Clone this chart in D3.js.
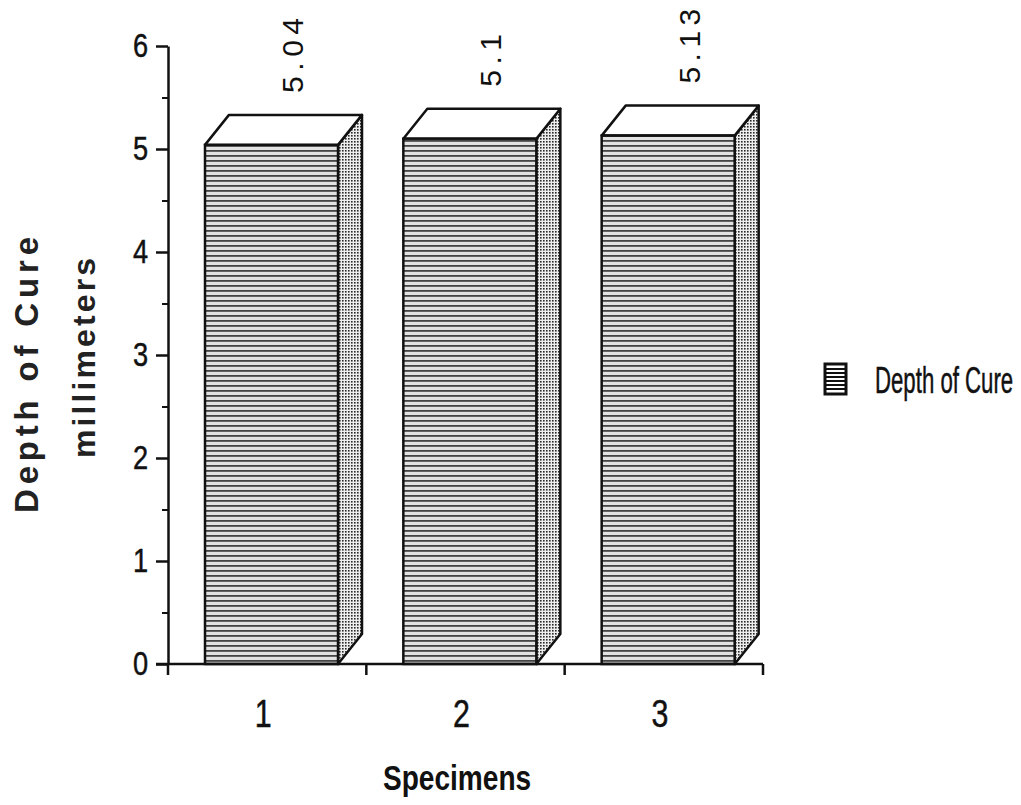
<!DOCTYPE html>
<html>
<head>
<meta charset="utf-8">
<script src="https://cdn.jsdelivr.net/npm/d3@7"></script>
<style>
  body { margin: 0; background: #fff; }
  text { font-family: "Liberation Sans", Arial, sans-serif; fill: #111; }
</style>
</head>
<body>
<div id="bar_chart"></div>
<script>
/* Depth of Cure per specimen - pseudo 3D bar chart */

const specimens = ["1", "2", "3"];
const depthOfCure = [5.04, 5.1, 5.13];
const valueLabels = ["5.04", "5.1", "5.13"];
const yTicks = [0, 1, 2, 3, 4, 5, 6];
const yMinorTicks = [0.5, 1.5, 2.5, 3.5, 4.5, 5.5];

const height = 805,
    width = 1021,
    margin = ({ top: 46, right: 258, bottom: 141, left: 168 });

const depthX = 24, depthY = 30, barOffset = 37, barWidth = 133;
const squeeze = 0.8; // the original uses a condensed face

const svg = d3.select("#bar_chart")
    .append("svg")
    .attr("width", width)
    .attr("height", height)
    .attr("viewBox", [0, 0, width, height]);

const defs = svg.append("defs");

// horizontal line fill for the front face
const hLines = defs.append("pattern")
    .attr("id", "hlines")
    .attr("patternUnits", "userSpaceOnUse")
    .attr("width", 8)
    .attr("height", 5);
hLines.append("rect").attr("width", 8).attr("height", 5).attr("fill", "#e2e2e2");
hLines.append("rect").attr("y", 0).attr("width", 8).attr("height", 1.8).attr("fill", "#444");

// stipple fill for the side face
const dots = defs.append("pattern")
    .attr("id", "dots")
    .attr("patternUnits", "userSpaceOnUse")
    .attr("width", 3)
    .attr("height", 3);
dots.append("rect").attr("width", 3).attr("height", 3).attr("fill", "#eee");
dots.append("rect").attr("width", 1.6).attr("height", 1.6).attr("fill", "#2a2a2a");

const data = specimens.map((s, i) => ({ specimen: s, value: depthOfCure[i], label: valueLabels[i] }));

let x = d3.scaleBand()
    .domain(specimens)
    .range([margin.left, width - margin.right])
    .padding(0);

let y = d3.scaleLinear()
    .domain([0, 6])
    .range([height - margin.bottom, margin.top]);

const base = y(0);

// bars
const bars = svg.append("g")
    .selectAll("g")
    .data(data)
    .join("g");

// side face
bars.append("path")
    .attr("d", d => {
        let x1 = x(d.specimen) + barOffset + barWidth, t = y(d.value);
        return `M${x1},${t} L${x1 + depthX},${t - depthY} L${x1 + depthX},${base - depthY} L${x1},${base} Z`;
    })
    .attr("fill", "url(#dots)")
    .attr("stroke", "#111")
    .attr("stroke-width", 2.5)
    .attr("stroke-linejoin", "round");

// top face
bars.append("path")
    .attr("d", d => {
        let x0 = x(d.specimen) + barOffset, t = y(d.value);
        return `M${x0},${t} L${x0 + depthX},${t - depthY} L${x0 + barWidth + depthX},${t - depthY} L${x0 + barWidth},${t} Z`;
    })
    .attr("fill", "#fff")
    .attr("stroke", "#111")
    .attr("stroke-width", 2.5)
    .attr("stroke-linejoin", "round");

// front face
bars.append("rect")
    .attr("x", d => x(d.specimen) + barOffset)
    .attr("y", d => y(d.value))
    .attr("width", barWidth)
    .attr("height", d => base - y(d.value))
    .attr("fill", "url(#hlines)")
    .attr("stroke", "#111")
    .attr("stroke-width", 2.5);

// value labels, rotated
bars.append("text")
    .attr("transform", d => `translate(${x(d.specimen) + barOffset + 98},${y(d.value) - 52}) rotate(-90)`)
    .attr("text-anchor", "start")
    .style("font-size", "30px")
    .style("letter-spacing", "5.5px")
    .text(d => d.label);

// y axis
const yAxis = svg.append("g")
    .attr("transform", `translate(${margin.left},0)`)
    .call(d3.axisLeft(y).tickValues(yTicks).tickSize(12).tickSizeOuter(0).tickFormat(d3.format("d")));
yAxis.select(".domain").attr("stroke", "#111").attr("stroke-width", 2.5);
yAxis.selectAll(".tick line").attr("stroke", "#111").attr("stroke-width", 2.5);
yAxis.selectAll(".tick text")
    .attr("x", -20 / squeeze)
    .attr("transform", `scale(${squeeze},1)`)
    .style("font-size", "34px")
    .style("stroke", "#111")
    .style("stroke-width", "0.5px");

svg.append("g")
    .attr("transform", `translate(${margin.left},0)`)
    .call(d3.axisLeft(y).tickValues(yMinorTicks).tickSize(6).tickFormat(""))
    .call(g => g.select(".domain").remove())
    .selectAll(".tick line").attr("stroke", "#111").attr("stroke-width", 2);

// x axis: line with ticks at category boundaries, labels at centres
const xAxis = svg.append("g")
    .attr("transform", `translate(0,${base})`)
    .call(d3.axisBottom(x).tickSize(0).tickSizeOuter(0).tickPadding(36));
xAxis.select(".domain").remove();
xAxis.append("line")
    .attr("x1", margin.left - 12)
    .attr("x2", width - margin.right)
    .attr("stroke", "#111")
    .attr("stroke-width", 2.5);
xAxis.selectAll(".boundary")
    .data(specimens.map(s => x(s) + x.bandwidth()).concat([x(specimens[0])]))
    .join("line")
    .attr("class", "boundary")
    .attr("x1", d => d).attr("x2", d => d)
    .attr("y1", 0).attr("y2", 11)
    .attr("stroke", "#111")
    .attr("stroke-width", 2.5);
xAxis.selectAll(".tick text")
    .attr("transform", `scale(${squeeze},1)`)
    .attr("x", d => -4 / squeeze)
    .style("font-size", "38px")
    .style("stroke", "#111")
    .style("stroke-width", "0.5px");

// axis titles
svg.append("text")
    .attr("transform", "translate(38,513) rotate(-90)")
    .attr("text-anchor", "start")
    .attr("textLength", 276)
    .attr("lengthAdjust", "spacing")
    .style("font-weight", "bold")
    .style("font-size", "33px")
    .style("fill", "#222")
    .text("Depth of Cure");

svg.append("text")
    .attr("transform", "translate(95,458) rotate(-90)")
    .attr("text-anchor", "start")
    .attr("textLength", 200)
    .attr("lengthAdjust", "spacing")
    .style("font-weight", "bold")
    .style("font-size", "32px")
    .style("fill", "#222")
    .text("millimeters");

svg.append("text")
    .attr("transform", "translate(383,790) scale(0.78,1)")
    .style("font-weight", "bold")
    .style("font-size", "36px")
    .text("Specimens");

// legend
const legend = svg.append("g").attr("transform", "translate(825,364)");
legend.append("rect")
    .attr("width", 21)
    .attr("height", 30)
    .attr("fill", "#fff")
    .attr("stroke", "#111")
    .attr("stroke-width", 3);
legend.selectAll(".lg")
    .data(d3.range(5, 27, 4))
    .join("line")
    .attr("class", "lg")
    .attr("x1", 0).attr("x2", 21)
    .attr("y1", d => d).attr("y2", d => d)
    .attr("stroke", "#111")
    .attr("stroke-width", 2);
legend.append("text")
    .attr("transform", "translate(50,29) scale(0.6,1)")
    .style("font-size", "37px")
    .style("stroke", "#111")
    .style("stroke-width", "0.5px")
    .text("Depth of Cure");
</script>
</body>
</html>
